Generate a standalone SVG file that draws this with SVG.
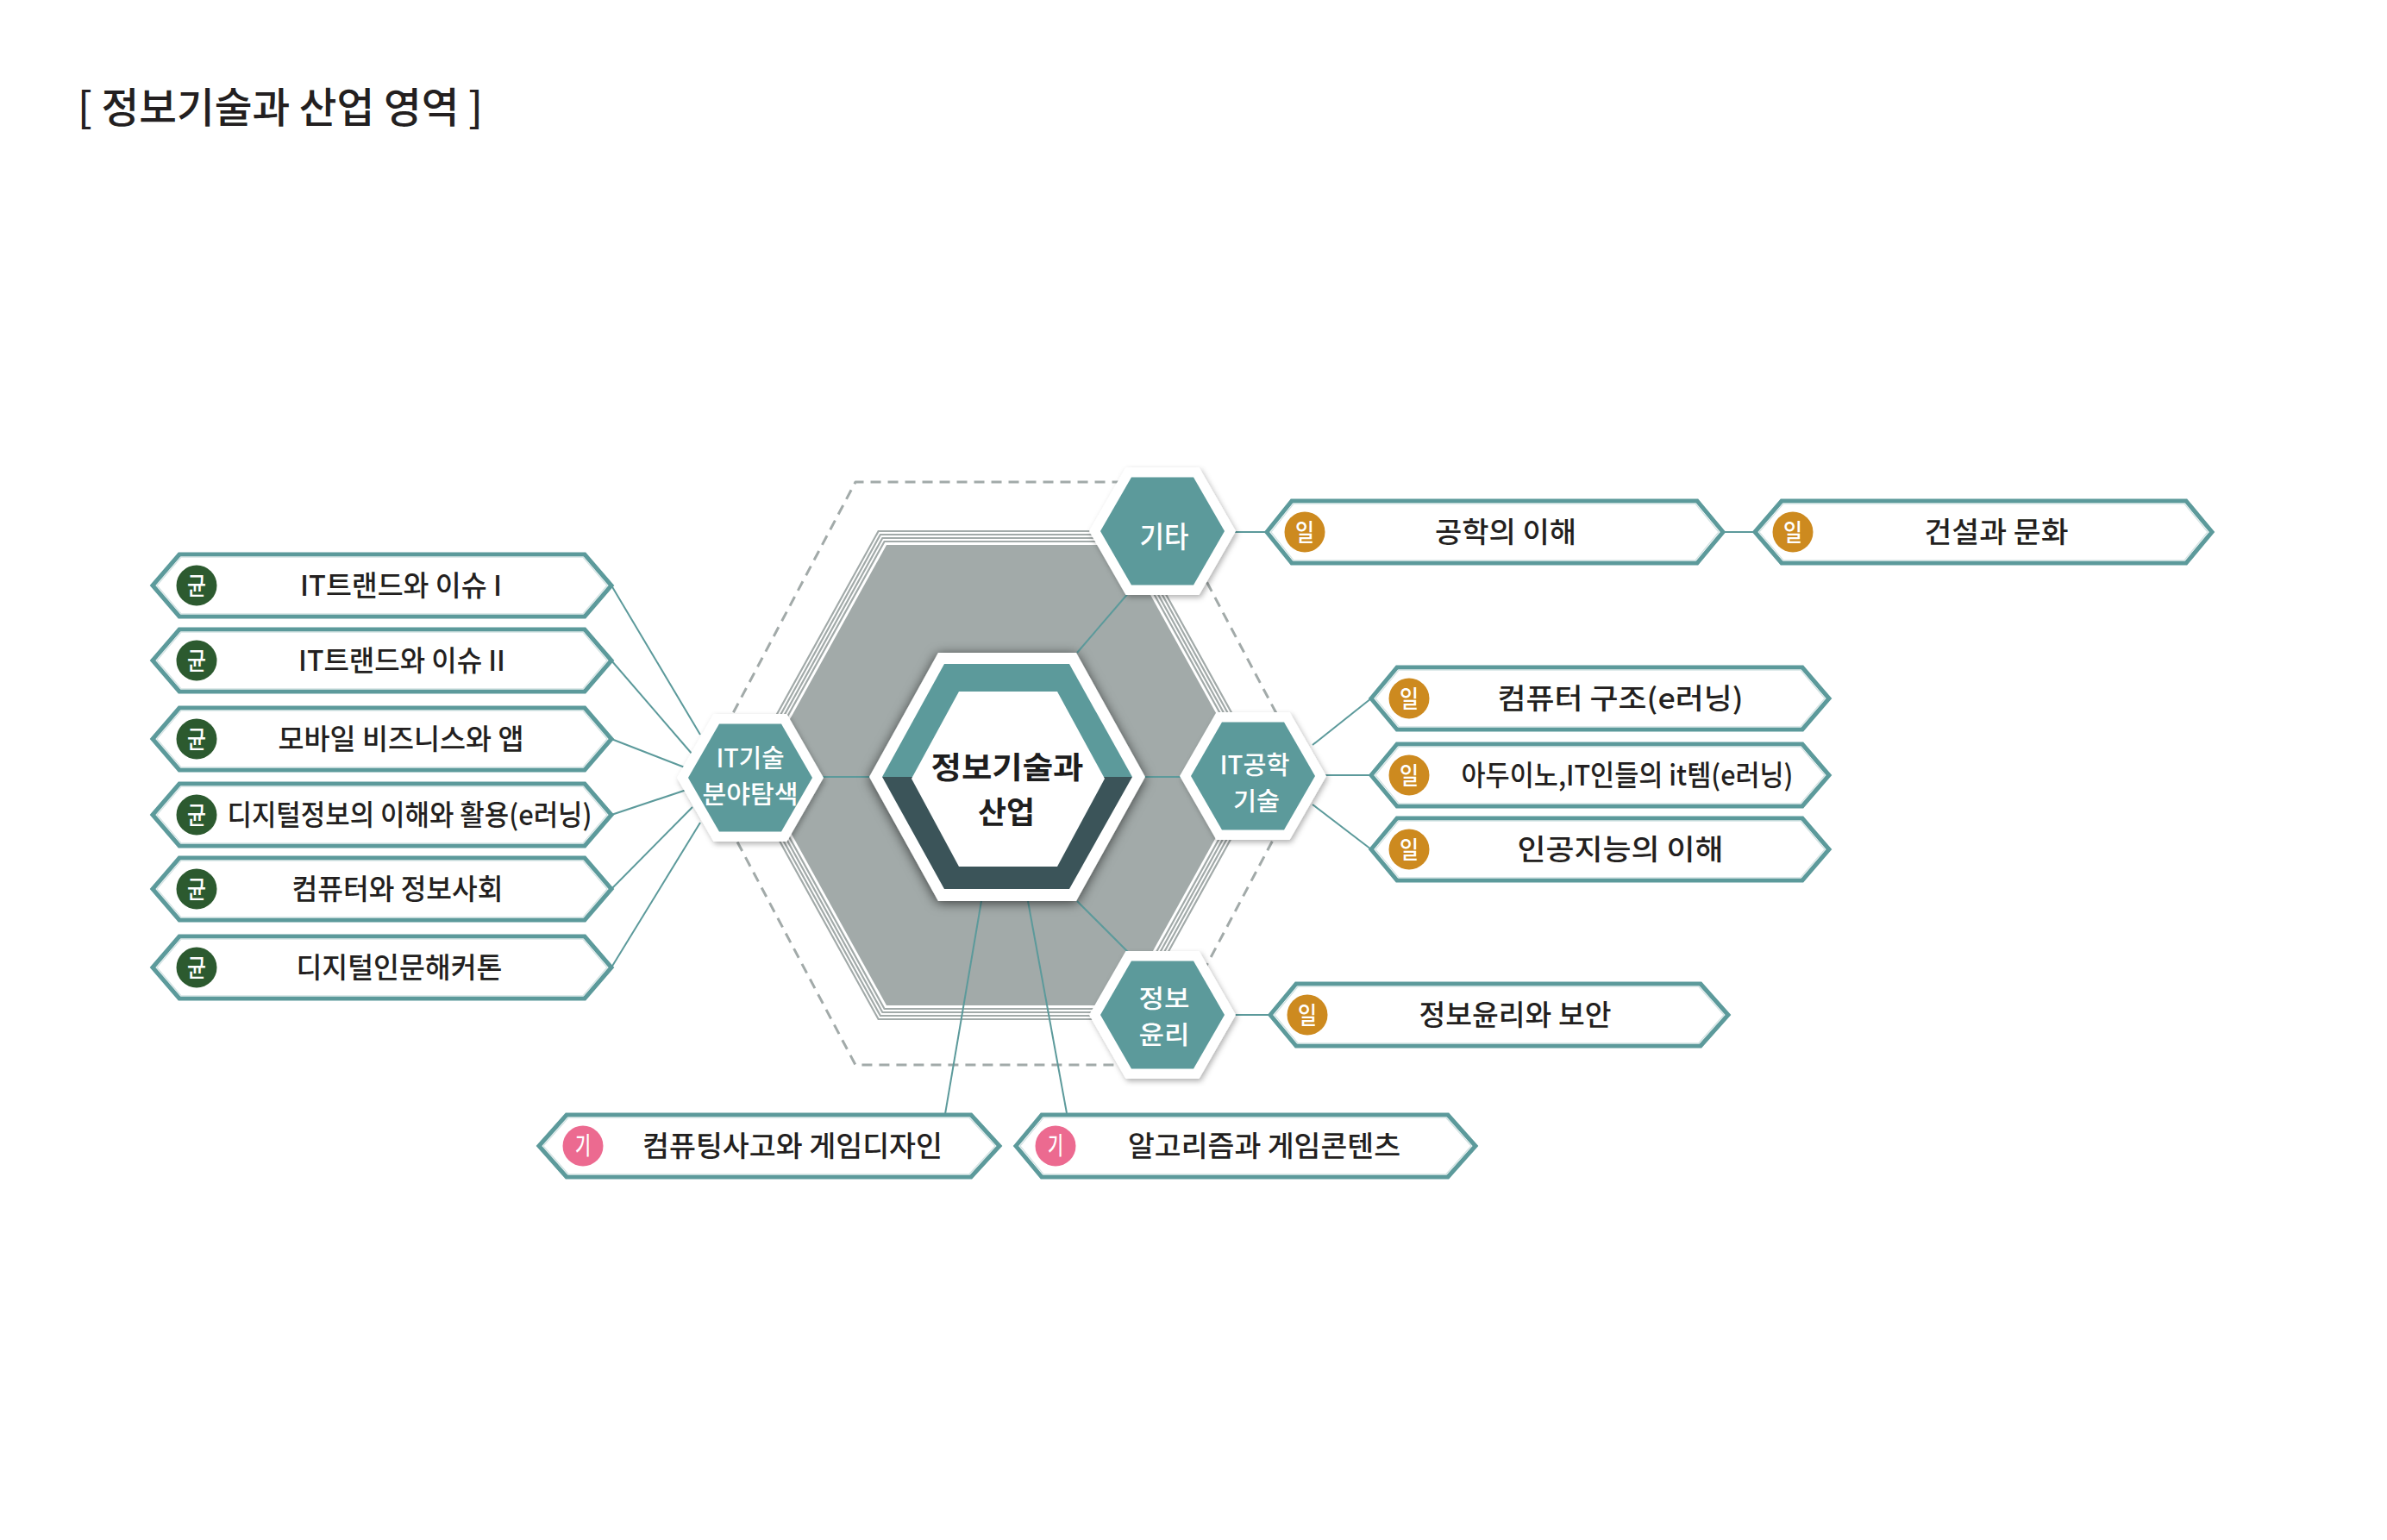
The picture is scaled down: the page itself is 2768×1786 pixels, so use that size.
<svg xmlns="http://www.w3.org/2000/svg" xmlns:xlink="http://www.w3.org/1999/xlink" width="2768" height="1786" viewBox="0 0 2768 1786">
<style>
text{font-family:'Noto Sans CJK KR','Noto Sans CJK SC','Noto Sans',sans-serif;}
.lbl{font-size:33px;fill:#231f20;font-weight:500;text-anchor:middle;}
.bt{font-size:28px;fill:#ffffff;font-weight:500;text-anchor:middle;}
.ht{font-size:34px;fill:#ffffff;font-weight:500;text-anchor:middle;}
.ht2{font-size:29px;fill:#ffffff;font-weight:500;text-anchor:middle;}
.ct{font-size:35.5px;fill:#1e1e1e;font-weight:700;text-anchor:middle;}
.box{fill:#ffffff;stroke:#5c9a9b;stroke-width:5;stroke-linejoin:miter;}
.inl{fill:none;stroke:#d3e3e3;stroke-width:1.3;}
.conn{stroke:#5c9a9b;stroke-width:2;fill:none;}
.gl{fill:none;stroke:#a2aaa9;stroke-width:2.2;}
.green{fill:#2c5a2f;}
.orange{fill:#cd8a1f;}
.pink{fill:#ec6a90;}
</style>
<defs>
<filter id="shBig" x="-30%" y="-30%" width="160%" height="160%"><feDropShadow dx="0" dy="2" stdDeviation="7" flood-color="#000000" flood-opacity="0.65"/></filter>
<filter id="shSmall" x="-30%" y="-30%" width="160%" height="160%"><feDropShadow dx="2" dy="3" stdDeviation="3" flood-color="#000000" flood-opacity="0.3"/></filter>
<g id="smallhex">
<polygon points="-85,0 -42.5,-74 42.5,-74 85,0 42.5,74 -42.5,74" fill="#ffffff" filter="url(#shSmall)"/>
<polygon points="-72,0 -36,-62.5 36,-62.5 72,0 36,62.5 -36,62.5" fill="#5c9a9b"/>
</g>
</defs>
<rect width="2768" height="1786" fill="#ffffff"/>

<text id="title" x="90" y="142" font-size="48" fill="#231f20" font-weight="500" textLength="470" lengthAdjust="spacingAndGlyphs">[ 정보기술과 산업 영역 ]</text>

<g id="background">
<polygon points="813,897 992,559 1338,559 1517,897 1338,1235 992,1235" fill="none" stroke="#a2aaa9" stroke-width="3" stroke-dasharray="12 8" stroke-linejoin="round"/>
<polygon class="gl" points="861.7,899 1018.6,616 1311.4,616 1468.3,899 1311.4,1182 1018.6,1182"/>
<polygon class="gl" points="866.3,899 1020.9,620 1309.1,620 1463.7,899 1309.1,1178 1020.9,1178"/>
<polygon class="gl" points="870.9,899 1023.3,624 1306.7,624 1459.1,899 1306.7,1174 1023.3,1174"/>
<polygon class="gl" points="875.4,899 1025.6,628 1304.4,628 1454.6,899 1304.4,1170 1025.6,1170"/>
<polygon points="880,899 1028,632 1302,632 1450,899 1302,1166 1028,1166" fill="#a2aaa9"/>
</g>

<g id="connectors">
<line class="conn" x1="709" y1="679" x2="812" y2="852"/>
<line class="conn" x1="709" y1="766" x2="803" y2="875"/>
<line class="conn" x1="709" y1="857" x2="794" y2="890"/>
<line class="conn" x1="709" y1="945" x2="796" y2="916"/>
<line class="conn" x1="709" y1="1031" x2="803" y2="936"/>
<line class="conn" x1="709" y1="1122" x2="812" y2="954"/>
<line class="conn" x1="950" y1="901" x2="1012" y2="901"/>
<line class="conn" x1="1324" y1="901" x2="1372" y2="901"/>
<line class="conn" x1="1249" y1="757" x2="1310" y2="686"/>
<line class="conn" x1="1249" y1="1045" x2="1310" y2="1106"/>
<line class="conn" x1="1138" y1="1045" x2="1096" y2="1292"/>
<line class="conn" x1="1192" y1="1045" x2="1237" y2="1291"/>
<line class="conn" x1="1430" y1="617" x2="1469" y2="617"/>
<line class="conn" x1="1998" y1="617" x2="2035" y2="617"/>
<line class="conn" x1="1522" y1="864" x2="1590" y2="810"/>
<line class="conn" x1="1535" y1="899" x2="1590" y2="899"/>
<line class="conn" x1="1522" y1="933" x2="1590" y2="985"/>
<line class="conn" x1="1430" y1="1177" x2="1473" y2="1177"/>
</g>

<g id="node-center">
<polygon points="1008,901 1088,757 1248,757 1328,901 1248,1045 1088,1045" fill="#ffffff" filter="url(#shBig)"/>
<polygon points="1023,901 1095,770 1240,770 1313,901" fill="#5c9a9b"/>
<polygon points="1313,901 1240,1031 1095,1031 1023,901" fill="#3b5459"/>
<polygon points="1057,903 1112,802 1226,802 1281,903 1226,1005 1112,1005" fill="#ffffff"/>
<text class="ct" x="1168" y="903" textLength="177" lengthAdjust="spacingAndGlyphs">정보기술과</text>
<text class="ct" x="1167" y="955" textLength="66" lengthAdjust="spacingAndGlyphs">산업</text>
</g>

<g id="node-it-field">
<use xlink:href="#smallhex" href="#smallhex" transform="translate(870,902)"/>
<text class="ht2" x="870" y="889.5" textLength="79" lengthAdjust="spacingAndGlyphs">IT기술</text>
<text class="ht2" x="870" y="931.5" textLength="111" lengthAdjust="spacingAndGlyphs">분야탐색</text>
</g>
<g id="node-etc">
<use xlink:href="#smallhex" href="#smallhex" transform="translate(1348,616)"/>
<text class="ht" x="1350" y="635" textLength="57" lengthAdjust="spacingAndGlyphs">기타</text>
</g>
<g id="node-it-eng">
<use xlink:href="#smallhex" href="#smallhex" transform="translate(1453,900)"/>
<text class="ht2" x="1455" y="897.5" textLength="81" lengthAdjust="spacingAndGlyphs">IT공학</text>
<text class="ht2" x="1457" y="939.5" textLength="54" lengthAdjust="spacingAndGlyphs">기술</text>
</g>
<g id="node-ethics">
<use xlink:href="#smallhex" href="#smallhex" transform="translate(1348,1177)"/>
<text class="ht2" x="1350" y="1169" textLength="59" lengthAdjust="spacingAndGlyphs">정보</text>
<text class="ht2" x="1350" y="1211" textLength="59" lengthAdjust="spacingAndGlyphs">윤리</text>
</g>

<g id="box-l1">
<polygon class="box" points="177,679 208,643 678,643 709,679 678,715 208,715"/>
<polygon class="inl" points="181.9,679 210.1,646.2 675.9,646.2 704.1,679 675.9,711.8 210.1,711.8"/>
<circle class="green" cx="228" cy="679" r="23.5"/><text class="bt" x="228" y="689.5" textLength="22" lengthAdjust="spacingAndGlyphs">균</text>
<text class="lbl" x="465" y="691" textLength="234" lengthAdjust="spacingAndGlyphs">IT트랜드와 이슈 I</text>
</g>
<g id="box-l2">
<polygon class="box" points="177,766 208,730 678,730 709,766 678,802 208,802"/>
<polygon class="inl" points="181.9,766 210.1,733.2 675.9,733.2 704.1,766 675.9,798.8 210.1,798.8"/>
<circle class="green" cx="228" cy="766" r="23.5"/><text class="bt" x="228" y="776.5" textLength="22" lengthAdjust="spacingAndGlyphs">균</text>
<text class="lbl" x="466" y="778" textLength="240" lengthAdjust="spacingAndGlyphs">IT트랜드와 이슈 II</text>
</g>
<g id="box-l3">
<polygon class="box" points="177,857 208,821 678,821 709,857 678,893 208,893"/>
<polygon class="inl" points="181.9,857 210.1,824.2 675.9,824.2 704.1,857 675.9,889.8 210.1,889.8"/>
<circle class="green" cx="228" cy="857" r="23.5"/><text class="bt" x="228" y="867.5" textLength="22" lengthAdjust="spacingAndGlyphs">균</text>
<text class="lbl" x="465" y="869" textLength="285" lengthAdjust="spacingAndGlyphs">모바일 비즈니스와 앱</text>
</g>
<g id="box-l4">
<polygon class="box" points="177,945 208,909 678,909 709,945 678,981 208,981"/>
<polygon class="inl" points="181.9,945 210.1,912.2 675.9,912.2 704.1,945 675.9,977.8 210.1,977.8"/>
<circle class="green" cx="228" cy="945" r="23.5"/><text class="bt" x="228" y="955.5" textLength="22" lengthAdjust="spacingAndGlyphs">균</text>
<text class="lbl" x="475" y="957" textLength="423" lengthAdjust="spacingAndGlyphs">디지털정보의 이해와 활용(e러닝)</text>
</g>
<g id="box-l5">
<polygon class="box" points="177,1031 208,995 678,995 709,1031 678,1067 208,1067"/>
<polygon class="inl" points="181.9,1031 210.1,998.2 675.9,998.2 704.1,1031 675.9,1063.8 210.1,1063.8"/>
<circle class="green" cx="228" cy="1031" r="23.5"/><text class="bt" x="228" y="1041.5" textLength="22" lengthAdjust="spacingAndGlyphs">균</text>
<text class="lbl" x="461" y="1043" textLength="245" lengthAdjust="spacingAndGlyphs">컴퓨터와 정보사회</text>
</g>
<g id="box-l6">
<polygon class="box" points="177,1122 208,1086 678,1086 709,1122 678,1158 208,1158"/>
<polygon class="inl" points="181.9,1122 210.1,1089.2 675.9,1089.2 704.1,1122 675.9,1154.8 210.1,1154.8"/>
<circle class="green" cx="228" cy="1122" r="23.5"/><text class="bt" x="228" y="1132.5" textLength="22" lengthAdjust="spacingAndGlyphs">균</text>
<text class="lbl" x="463" y="1134" textLength="239" lengthAdjust="spacingAndGlyphs">디지털인문해커톤</text>
</g>

<g id="box-r1">
<polygon class="box" points="1469,617 1498,581 1968,581 1998,617 1968,653 1498,653"/>
<polygon class="inl" points="1473.9,617 1500.1,584.2 1965.9,584.2 1993.1,617 1965.9,649.8 1500.1,649.8"/>
<circle class="orange" cx="1513" cy="617" r="23.5"/><text class="bt" x="1513" y="627.5" textLength="22" lengthAdjust="spacingAndGlyphs">일</text>
<text class="lbl" x="1746" y="629" textLength="164" lengthAdjust="spacingAndGlyphs">공학의 이해</text>
</g>
<g id="box-r2">
<polygon class="box" points="2035,617 2066,581 2535,581 2565,617 2535,653 2066,653"/>
<polygon class="inl" points="2039.9,617 2068.1,584.2 2532.9,584.2 2560.1,617 2532.9,649.8 2068.1,649.8"/>
<circle class="orange" cx="2079" cy="617" r="23.5"/><text class="bt" x="2079" y="627.5" textLength="22" lengthAdjust="spacingAndGlyphs">일</text>
<text class="lbl" x="2315" y="629" textLength="167" lengthAdjust="spacingAndGlyphs">건설과 문화</text>
</g>
<g id="box-r3">
<polygon class="box" points="1590,810 1620,774 2090,774 2121,810 2090,846 1620,846"/>
<polygon class="inl" points="1594.9,810 1622.1,777.2 2087.9,777.2 2116.1,810 2087.9,842.8 1622.1,842.8"/>
<circle class="orange" cx="1634" cy="810" r="23.5"/><text class="bt" x="1634" y="820.5" textLength="22" lengthAdjust="spacingAndGlyphs">일</text>
<text class="lbl" x="1879" y="822" textLength="285" lengthAdjust="spacingAndGlyphs">컴퓨터 구조(e러닝)</text>
</g>
<g id="box-r4">
<polygon class="box" points="1590,899 1620,863 2090,863 2121,899 2090,935 1620,935"/>
<polygon class="inl" points="1594.9,899 1622.1,866.2 2087.9,866.2 2116.1,899 2087.9,931.8 1622.1,931.8"/>
<circle class="orange" cx="1634" cy="899" r="23.5"/><text class="bt" x="1634" y="909.5" textLength="22" lengthAdjust="spacingAndGlyphs">일</text>
<text class="lbl" x="1887" y="911" textLength="385" lengthAdjust="spacingAndGlyphs">아두이노,IT인들의 it템(e러닝)</text>
</g>
<g id="box-r5">
<polygon class="box" points="1590,985 1620,949 2090,949 2121,985 2090,1021 1620,1021"/>
<polygon class="inl" points="1594.9,985 1622.1,952.2 2087.9,952.2 2116.1,985 2087.9,1017.8 1622.1,1017.8"/>
<circle class="orange" cx="1634" cy="985" r="23.5"/><text class="bt" x="1634" y="995.5" textLength="22" lengthAdjust="spacingAndGlyphs">일</text>
<text class="lbl" x="1879" y="997" textLength="239" lengthAdjust="spacingAndGlyphs">인공지능의 이해</text>
</g>
<g id="box-r6">
<polygon class="box" points="1473,1177 1503,1141 1972,1141 2004,1177 1972,1213 1503,1213"/>
<polygon class="inl" points="1477.9,1177 1505.1,1144.2 1969.9,1144.2 1999.1,1177 1969.9,1209.8 1505.1,1209.8"/>
<circle class="orange" cx="1516" cy="1177" r="23.5"/><text class="bt" x="1516" y="1187.5" textLength="22" lengthAdjust="spacingAndGlyphs">일</text>
<text class="lbl" x="1757" y="1189" textLength="223" lengthAdjust="spacingAndGlyphs">정보윤리와 보안</text>
</g>

<g id="box-b1">
<polygon class="box" points="625,1329 657,1293 1126,1293 1159,1329 1126,1365 657,1365"/>
<polygon class="inl" points="629.9,1329 659.1,1296.2 1123.9,1296.2 1154.1,1329 1123.9,1361.8 659.1,1361.8"/>
<circle class="pink" cx="676" cy="1329" r="23.5"/><text class="bt" x="676" y="1338.5" font-size="26" font-weight="400" textLength="18" lengthAdjust="spacingAndGlyphs">기</text>
<text class="lbl" x="919" y="1341" textLength="348" lengthAdjust="spacingAndGlyphs">컴퓨팅사고와 게임디자인</text>
</g>
<g id="box-b2">
<polygon class="box" points="1178,1329 1208,1293 1679,1293 1711,1329 1679,1365 1208,1365"/>
<polygon class="inl" points="1182.9,1329 1210.1,1296.2 1676.9,1296.2 1706.1,1329 1676.9,1361.8 1210.1,1361.8"/>
<circle class="pink" cx="1224" cy="1329" r="23.5"/><text class="bt" x="1224" y="1338.5" font-size="26" font-weight="400" textLength="18" lengthAdjust="spacingAndGlyphs">기</text>
<text class="lbl" x="1466" y="1341" textLength="316" lengthAdjust="spacingAndGlyphs">알고리즘과 게임콘텐츠</text>
</g>
</svg>
